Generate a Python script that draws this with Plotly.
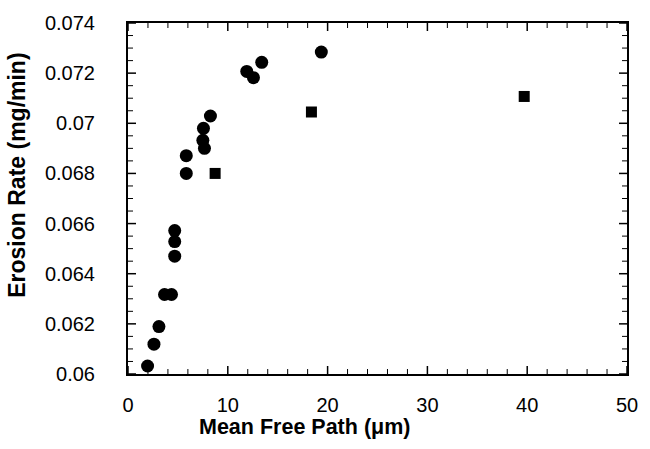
import plotly.graph_objects as go

# Circles series
circle_x = [1.96, 2.6, 3.1, 3.66, 4.36, 4.68, 4.68, 4.68, 5.84, 5.84, 7.66, 7.5, 7.56, 8.26,
            11.9, 12.57, 13.4, 19.37]
circle_y = [0.06032, 0.06119, 0.06189, 0.06317, 0.06317, 0.0647, 0.06528, 0.06572, 0.0680, 0.06871,
            0.0690, 0.06932, 0.0698, 0.07029, 0.07207, 0.07182, 0.07243, 0.07284]

# Squares series
square_x = [8.73, 18.38, 39.7]
square_y = [0.0680, 0.07045, 0.07107]

x_ticks = [0, 10, 20, 30, 40, 50]
y_ticks = [0.06, 0.062, 0.064, 0.066, 0.068, 0.07, 0.072, 0.074]
y_labels = ["0.06", "0.062", "0.064", "0.066", "0.068", "0.07", "0.072", "0.074"]

x_title = "Mean Free Path (μm)"
y_title = "Erosion Rate (mg/min)"

x_minor_step = 2
y_minor_step = 0.0005

fig = go.Figure()
fig.add_trace(go.Scatter(x=circle_x, y=circle_y, mode="markers",
                         marker=dict(symbol="circle", size=13, color="black"),
                         showlegend=False))
fig.add_trace(go.Scatter(x=square_x, y=square_y, mode="markers",
                         marker=dict(symbol="square", size=11, color="black"),
                         showlegend=False))

fontfam = "Liberation Sans, Arial, Helvetica, sans-serif"
fig.update_layout(
    width=650, height=449,
    margin=dict(l=128, r=20, t=14, b=75),
    paper_bgcolor="white", plot_bgcolor="white",
    font=dict(family=fontfam, color="black", size=20),
)
fig.update_xaxes(
    range=[x_ticks[0], x_ticks[-1]], tickvals=x_ticks, ticktext=[str(v) for v in x_ticks],
    showgrid=False, zeroline=False,
    showline=True, linecolor="black", linewidth=2, mirror=True,
    ticks="outside", ticklen=12, tickcolor="rgba(0,0,0,0)",
    tickfont=dict(size=20, family=fontfam),
)
fig.update_yaxes(
    range=[y_ticks[0], y_ticks[-1]], tickvals=y_ticks, ticktext=y_labels,
    showgrid=False, zeroline=False,
    showline=True, linecolor="black", linewidth=2, mirror=True,
    ticks="outside", ticklen=21, tickcolor="rgba(0,0,0,0)",
    ticklabelstandoff=6,
    tickfont=dict(size=20, family=fontfam),
)

# inside tick marks on all four sides (major + minor), placed on the axes' own scales
def add_xtick(v, length, width):
    for anchor, sign in ((0, 1), (1, -1)):
        fig.add_shape(type="line", xref="x", yref="paper", x0=v, x1=v,
                      ysizemode="pixel", yanchor=anchor, y0=0, y1=sign * length,
                      line=dict(color="black", width=width))

def add_ytick(v, length, width):
    for anchor, sign in ((0, 1), (1, -1)):
        fig.add_shape(type="line", xref="paper", yref="y", y0=v, y1=v,
                      xsizemode="pixel", xanchor=anchor, x0=0, x1=sign * length,
                      line=dict(color="black", width=width))

n_xminor = round((x_ticks[-1] - x_ticks[0]) / x_minor_step)
for i in range(n_xminor + 1):
    v = x_ticks[0] + i * x_minor_step
    is_major = any(abs(v - t) < 1e-9 for t in x_ticks)
    add_xtick(v, 8 if is_major else 5, 1.5 if is_major else 1)

n_yminor = round((y_ticks[-1] - y_ticks[0]) / y_minor_step)
for i in range(n_yminor + 1):
    v = y_ticks[0] + i * y_minor_step
    is_major = any(abs(v - t) < 1e-9 for t in y_ticks)
    add_ytick(v, 8 if is_major else 5, 1.5 if is_major else 1)

fig.add_annotation(text="<b>" + x_title + "</b>", xref="paper", yref="paper",
                   x=(306 - 128) / 502, y=-(428 - 374) / 360, xanchor="center", yanchor="middle",
                   showarrow=False, font=dict(size=21.5, family=fontfam))
fig.add_annotation(text="<b>" + y_title + "</b>", xref="paper", yref="paper",
                   x=-(128 - 16) / 502, y=(374 - 170) / 360, xanchor="center", yanchor="middle",
                   textangle=-90, showarrow=False, font=dict(size=23, family=fontfam))
fig.write_html("out.html")
